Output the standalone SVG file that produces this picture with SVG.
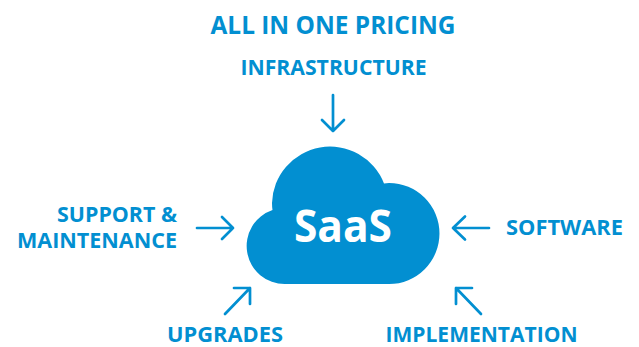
<svg xmlns="http://www.w3.org/2000/svg" width="639" height="347" viewBox="0 0 639 347">
<style>
text{font-family:"Open Sans","Noto Sans","Liberation Sans",sans-serif;font-weight:700;fill:#028fd1}
.l{font-size:21.500px}
.a{fill:none;stroke:#028fd1;stroke-width:2.700;stroke-linecap:round;stroke-linejoin:round}
</style>
<rect width="639" height="347" fill="#fff"/>
<g id="title"><text x="333" y="34" font-size="24.500" text-anchor="middle" textLength="245" lengthAdjust="spacingAndGlyphs">ALL IN ONE PRICING</text></g>
<g id="infrastructure"><text class="l" x="333.500" y="75" text-anchor="middle" textLength="186" lengthAdjust="spacingAndGlyphs">INFRASTRUCTURE</text></g>
<g id="support"><text class="l" x="177" y="221.500" text-anchor="end" textLength="120" lengthAdjust="spacingAndGlyphs">SUPPORT &amp;</text><text class="l" x="177" y="248" text-anchor="end" textLength="160" lengthAdjust="spacingAndGlyphs">MAINTENANCE</text></g>
<g id="software"><text class="l" x="564.500" y="234.500" text-anchor="middle" textLength="117" lengthAdjust="spacingAndGlyphs">SOFTWARE</text></g>
<g id="upgrades"><text class="l" x="225" y="342" text-anchor="middle" textLength="116" lengthAdjust="spacingAndGlyphs">UPGRADES</text></g>
<g id="implementation"><text class="l" x="481.500" y="342" text-anchor="middle" textLength="192" lengthAdjust="spacingAndGlyphs">IMPLEMENTATION</text></g>
<g id="saas">
<path fill="#028fd1" d="M285 284A38 38 0 0 1 272.500 210Q272 206.500 272 203A58 58 0 0 1 384 183.500Q386.500 183 389 183A50.500 50.500 0 0 1 389 284Z"/>
<text x="343" y="241.500" font-size="45" text-anchor="middle" textLength="98" lengthAdjust="spacingAndGlyphs" style="fill:#fff">SaaS</text>
</g>
<g id="connectors">
<path class="a" d="M333 95V131M322 120L333 131L344 120"/>
<path class="a" d="M197 228H233M222 217L233 228L222 239"/>
<path class="a" d="M489 228H453M465 216.500L453 228L465 239.500"/>
<path class="a" d="M225 314L250 288M234 288H250V304"/>
<path class="a" d="M481 314L456 288M456 304V288H472"/>
</g>
</svg>
